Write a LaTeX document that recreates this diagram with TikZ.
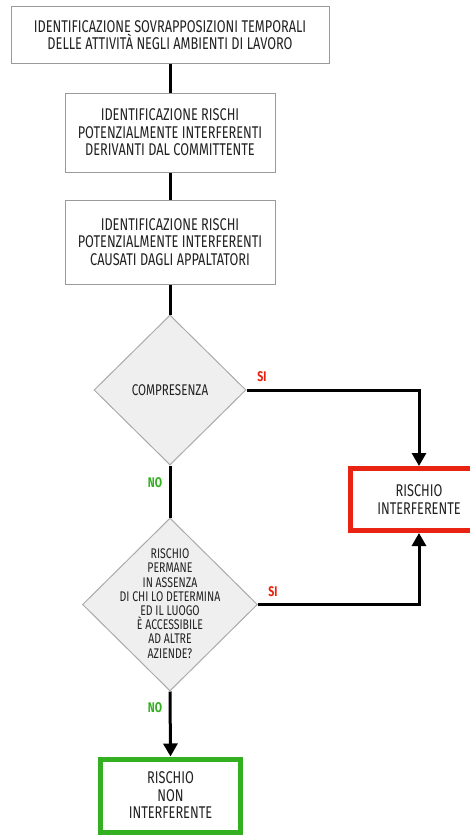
\documentclass[tikz,border=0pt]{standalone}
\usepackage{fontspec}
\setmainfont[FakeStretch=0.75]{Fira Sans}
\usetikzlibrary{shapes.geometric,arrows.meta}
\definecolor{boxgray}{HTML}{9A9A9A}
\definecolor{diafill}{HTML}{EFEFEF}
\definecolor{diaedge}{HTML}{AAAAAA}
\definecolor{txt}{HTML}{222222}
\definecolor{redc}{HTML}{E82311}
\definecolor{greenc}{HTML}{33B020}
\tikzset{
  stepbox/.style={draw=boxgray, line width=1pt, fill=white, text=txt, align=center, inner sep=0pt, font=\fontsize{17}{17.5}\selectfont},
  dia/.style={shape=diamond, draw=diaedge, line width=1pt, fill=diafill, inner sep=0pt, aspect=1},
  diatext/.style={text=txt, align=center, inner sep=0pt},
  conn/.style={line width=3pt, black},
  arr/.style={conn, -{Triangle[width=14pt,length=13pt]}},
  yes/.style={text=redc, font=\bfseries\fontsize{14}{16}\selectfont, inner sep=0pt},
  no/.style={text=greenc, font=\bfseries\fontsize{14}{16}\selectfont, inner sep=0pt},
}
\begin{document}
\begin{tikzpicture}[x=1pt,y=-1pt]
\useasboundingbox (0,0) rectangle (470,835);
\node[stepbox, minimum width=318pt, minimum height=57pt] (b1) at (170,35) {IDENTIFICAZIONE SOVRAPPOSIZIONI TEMPORALI\\DELLE ATTIVITÀ NEGLI AMBIENTI DI LAVORO};
\node[stepbox, minimum width=210pt, minimum height=79pt] (b2) at (170,132.5) {IDENTIFICAZIONE RISCHI\\POTENZIALMENTE INTERFERENTI\\DERIVANTI DAL COMMITTENTE};
\node[stepbox, minimum width=210pt, minimum height=84pt] (b3) at (170,242) {IDENTIFICAZIONE RISCHI\\POTENZIALMENTE INTERFERENTI\\CAUSATI DAGLI APPALTATORI};
\node[dia, minimum width=152pt, minimum height=150pt] (d1) at (170,390) {};
\node[diatext, font=\fontsize{15.5}{16}\selectfont] (d1t) at (d1.center) {COMPRESENZA};
\node[dia, minimum width=175pt, minimum height=173pt] (d2) at (170,604.5) {};
\node[diatext, font=\fontsize{14}{14.2}\selectfont] (d2t) at (170,603.5) {RISCHIO\\PERMANE\\IN ASSENZA\\DI CHI LO DETERMINA\\ED IL LUOGO\\È ACCESSIBILE\\AD ALTRE\\AZIENDE?};
\node[stepbox, draw=redc, line width=5pt, minimum width=137pt, minimum height=62pt] (r) at (419,499.5) {RISCHIO\\INTERFERENTE};
\node[stepbox, draw=greenc, line width=5pt, minimum width=140pt, minimum height=73pt] (g) at (170.5,795.5) {RISCHIO\\NON\\INTERFERENTE};
\draw[conn] (b1.south) -- (b2.north);
\draw[conn] (b2.south) -- (b3.north);
\draw[conn] (b3.south) -- (d1.north);
\draw[conn] (d1.south) -- (d2.north);
\draw[arr] (d1.east) -| (r.north);
\draw[arr] (d2.east) -| (r.south);
\draw[arr] (d2.south) -- (g.north);
\node[yes] (si1) at (262,377) {SI};
\node[yes] (si2) at (273,592) {SI};
\node[no] (no1) at (155,483) {NO};
\node[no] (no2) at (155,708) {NO};
\end{tikzpicture}
\end{document}
